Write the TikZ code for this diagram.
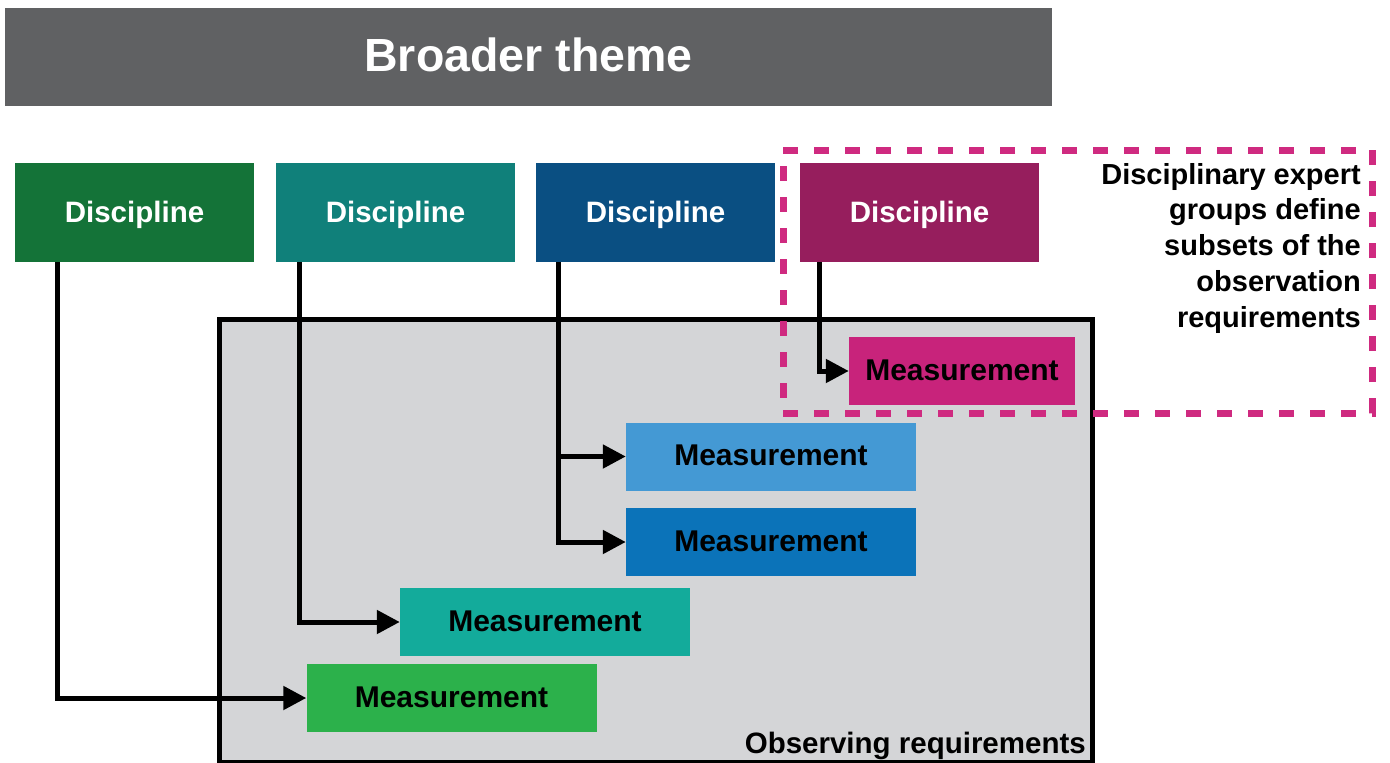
\documentclass[tikz,border=0pt]{standalone}
\usepackage{fontspec}
\setmainfont{Liberation Sans}
\usetikzlibrary{arrows.meta}

\definecolor{themegray}{HTML}{606163}
\definecolor{discgreen}{HTML}{147338}
\definecolor{discteal}{HTML}{10807A}
\definecolor{discblue}{HTML}{0A4F82}
\definecolor{discpurple}{HTML}{961E5D}
\definecolor{measmagenta}{HTML}{C8237B}
\definecolor{measlightblue}{HTML}{4499D4}
\definecolor{measblue}{HTML}{0B73B9}
\definecolor{measteal}{HTML}{13AB9B}
\definecolor{measgreen}{HTML}{2CB14B}
\definecolor{reqgray}{HTML}{D4D5D7}
\definecolor{grouppink}{HTML}{CF2A80}

\tikzset{
  discbox/.style={minimum width=239, minimum height=99, inner sep=0,
    text=white, text depth=2, font=\fontsize{29.5}{34}\selectfont\bfseries},
  measbox/.style={minimum width=290, minimum height=68, inner sep=0,
    text=black, text depth=2, font=\fontsize{30}{34}\selectfont\bfseries},
  conn/.style={line width=5, draw=black,
    -{Triangle[length=23,width=23]}},
}

\begin{document}
\begin{tikzpicture}[x=1pt,y=-1pt]
\useasboundingbox (0,0) rectangle (1390,763);

% broader theme banner
\node[fill=themegray, minimum width=1047, minimum height=98, inner sep=0,
  text=white, text depth=5, font=\fontsize{46.5}{52}\selectfont\bfseries]
  (theme) at (528.5,57) {Broader theme};

% observing requirements panel
\draw[line width=5, fill=reqgray] (219,319) rectangle (1092,762);
\node[anchor=base east, inner sep=0, font=\fontsize{29.5}{34}\selectfont\bfseries]
  (obs) at (1086,753) {Observing requirements};

% disciplines
\node[discbox, fill=discgreen]  (d1) at (134.5,212.5) {Discipline};
\node[discbox, fill=discteal]   (d2) at (395.5,212.5) {Discipline};
\node[discbox, fill=discblue]   (d3) at (655.5,212.5) {Discipline};
\node[discbox, fill=discpurple] (d4) at (919.5,212.5) {Discipline};

% measurements
\node[measbox, fill=measmagenta, minimum width=226] (m1) at (962,371) {Measurement};
\node[measbox, fill=measlightblue] (m2) at (771,456.5) {Measurement};
\node[measbox, fill=measblue]      (m3) at (771,542)   {Measurement};
\node[measbox, fill=measteal]      (m4) at (545,622)   {Measurement};
\node[measbox, fill=measgreen]     (m5) at (451.5,698) {Measurement};

% expert group outline and caption
\node[draw=grouppink, line width=7, dash pattern=on 15 off 16,
  minimum width=589, minimum height=263, inner sep=0]
  (grp) at (1077.5,281.5) {};
\node[anchor=north east, align=right, inner sep=0,
  font=\fontsize{29}{35.7}\selectfont\bfseries]
  (cap) at (1361,163)
  {Disciplinary expert\\groups define\\subsets of the\\observation\\requirements};

% links from disciplines to their measurements
\coordinate (s1) at ([xshift=43]d1.south west);
\coordinate (s2) at ([xshift=24]d2.south west);
\coordinate (s3) at ([xshift=23]d3.south west);
\coordinate (s4) at ([xshift=20]d4.south west);

\draw[conn] (s1) |- (m5.west);
\draw[conn] (s2) |- (m4.west);
\draw[conn] (s3) |- (m3.west);
\draw[conn] (s3 |- m2.west) -- (m2.west);
\draw[conn] (s4) |- (m1.west);
\end{tikzpicture}
\end{document}
